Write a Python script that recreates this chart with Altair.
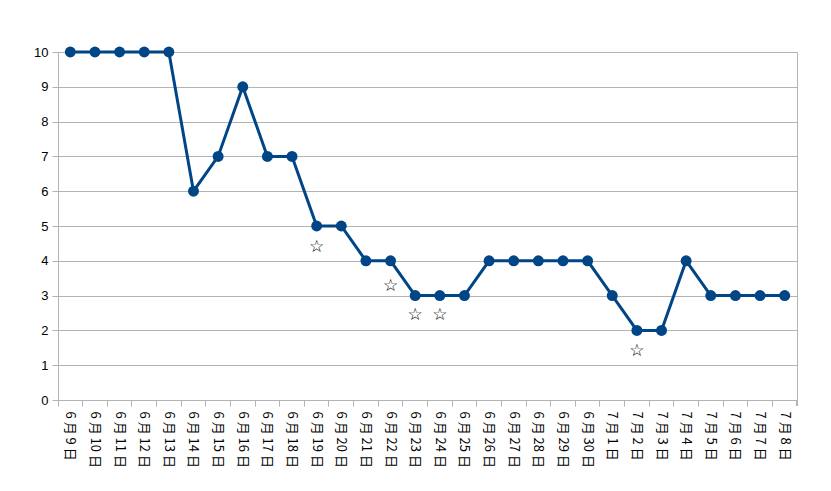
import altair as alt
import pandas as pd

dates = ["6 月 9 日", "6 月 10 日", "6 月 11 日", "6 月 12 日", "6 月 13 日", "6 月 14 日",
         "6 月 15 日", "6 月 16 日", "6 月 17 日", "6 月 18 日", "6 月 19 日", "6 月 20 日",
         "6 月 21 日", "6 月 22 日", "6 月 23 日", "6 月 24 日", "6 月 25 日", "6 月 26 日",
         "6 月 27 日", "6 月 28 日", "6 月 29 日", "6 月 30 日", "7 月 1 日", "7 月 2 日",
         "7 月 3 日", "7 月 4 日", "7 月 5 日", "7 月 6 日", "7 月 7 日", "7 月 8 日"]
values = [10, 10, 10, 10, 10, 6, 7, 9, 7, 7, 5, 5, 4, 4, 3, 3, 3, 4, 4, 4, 4, 4,
          3, 2, 2, 4, 3, 3, 3, 3]

star_dates = ["6 月 19 日", "6 月 22 日", "6 月 23 日", "6 月 24 日", "7 月 2 日"]
star_values = [4.4, 3.27, 2.45, 2.45, 1.42]
star_text = ["☆"] * len(star_dates)

df = pd.DataFrame({"date": dates, "value": values})
sdf = pd.DataFrame({"date": star_dates, "value": star_values, "t": star_text})

W, H = 739, 348
GRID = "#b3b3b3"

xscale = alt.Scale(type="band", domain=dates, paddingInner=0, paddingOuter=0)
yscale = alt.Scale(domain=[0, 10], nice=False)

x_enc = alt.X("date:N", scale=xscale, sort=dates, bandPosition=0.5,
              axis=alt.Axis(title=None, grid=False, labelAngle=90, labelAlign="left",
                            labelBaseline="middle", labelFont="Noto Sans CJK JP",
                            labelFontSize=13, labelColor="#000000", labelPadding=5,
                            tickColor=GRID, tickSize=6, domainColor=GRID,
                            bandPosition=0))
y_enc = alt.Y("value:Q", scale=yscale,
              axis=alt.Axis(title=None, values=list(range(0, 11)), grid=True,
                            gridColor=GRID, tickColor=GRID, tickSize=6,
                            domainColor=GRID, labelFont="Liberation Sans",
                            labelFontSize=13, labelColor="#000000", labelPadding=4,
                            labelOverlap=False))

base = alt.Chart(df)
line = base.mark_line(color="#004586", strokeWidth=3).encode(x=x_enc, y=y_enc)
pts = base.mark_circle(color="#004586", opacity=1, size=120).encode(x=x_enc, y=y_enc)
stars = alt.Chart(sdf).mark_text(font="DejaVu Sans", fontSize=17, color="#000000").encode(
    x=x_enc, y=y_enc, text="t:N")
endtick = alt.Chart(df).mark_rule(color=GRID).encode(
    x=alt.value(W), y=alt.value(H), y2=alt.value(H + 6))

chart = alt.layer(line, pts, stars, endtick).properties(
    width=W, height=H,
    autosize=alt.AutoSizeParams(type="none"),
    padding={"left": 58, "top": 52, "right": 34, "bottom": 91},
    background="#ffffff",
).configure_view(stroke=GRID)

chart.save("out.html", embed_options={"renderer": "svg", "actions": False})
